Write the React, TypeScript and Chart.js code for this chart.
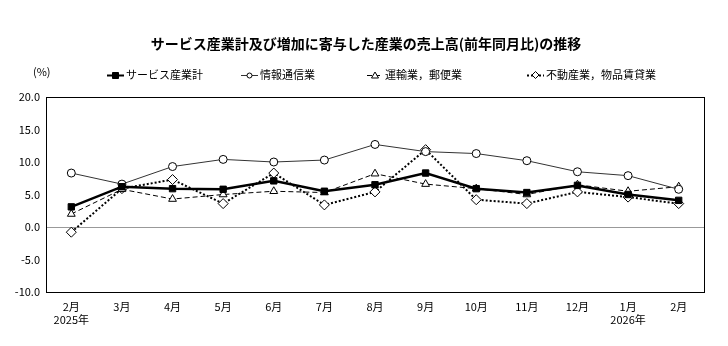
import React, { useEffect, useRef } from "react";
import { Chart, registerables } from "chart.js";

Chart.register(...registerables);

const categories: (string | string[])[] = [
  ["2月", "2025年"], "3月", "4月", "5月", "6月", "7月", "8月", "9月", "10月", "11月", "12月", ["1月", "2026年"], "2月",
];
const serviceTotal = [3.1, 6.2, 5.9, 5.8, 7.1, 5.5, 6.5, 8.3, 5.9, 5.3, 6.4, 5.0, 4.1];
const infoComm = [8.3, 6.6, 9.3, 10.4, 10.0, 10.3, 12.7, 11.6, 11.3, 10.2, 8.5, 7.9, 5.8];
const transport = [2.0, 5.8, 4.3, 5.0, 5.5, 5.3, 8.2, 6.6, 5.9, 5.0, 6.5, 5.5, 6.2];
const realEstate = [-0.8, 5.9, 7.3, 3.6, 8.3, 3.4, 5.4, 11.9, 4.2, 3.6, 5.4, 4.6, 3.6];
const seriesNames = ["サービス産業計", "情報通信業", "運輸業，郵便業", "不動産業，物品賃貸業"];
const titleText = "サービス産業計及び増加に寄与した産業の売上高(前年同月比)の推移";
const FONT = "'Noto Sans CJK JP', 'Noto Sans', sans-serif";

const legendX = [107, 241, 367, 527];

const overlayPlugin = {
  id: "overlay",
  afterDraw(chart: any) {
    const ctx = chart.ctx;
    const a = chart.chartArea;
    ctx.save();
    ctx.strokeStyle = "#000";
    ctx.lineWidth = 1;
    ctx.setLineDash([]);
    ctx.strokeRect(Math.round(a.left) + 0.5, Math.round(a.top) + 0.5, Math.round(a.right - a.left), Math.round(a.bottom - a.top));
    ctx.fillStyle = "#000";
    ctx.font = `bold 14px ${FONT}`;
    ctx.textAlign = "center";
    ctx.textBaseline = "middle";
    ctx.fillText(titleText, 366, 44);
    ctx.font = `11px ${FONT}`;
    ctx.textAlign = "left";
    ctx.fillText("(%)", 33, 72);
    chart.data.datasets.forEach((ds: any, i: number) => {
      const x0 = legendX[i];
      const y = 75;
      const len = i === 2 ? 16 : 17;
      ctx.save();
      ctx.strokeStyle = ds.borderColor;
      ctx.lineWidth = Math.min(ds.borderWidth, 2);
      ctx.setLineDash(ds.borderDash || []);
      ctx.beginPath();
      ctx.moveTo(x0, y + 0.5);
      ctx.lineTo(x0 + len, y + 0.5);
      ctx.stroke();
      ctx.setLineDash([]);
      ctx.lineWidth = 1;
      const cx = x0 + len / 2;
      const r = 3;
      ctx.fillStyle = ds.pointBackgroundColor;
      ctx.strokeStyle = ds.pointBorderColor;
      ctx.beginPath();
      if (ds.pointStyle === "rect") {
        ctx.rect(cx - r, y - r + 0.5, r * 2, r * 2);
      } else if (ds.pointStyle === "circle") {
        ctx.arc(cx, y + 0.5, 2.5, 0, Math.PI * 2);
      } else if (ds.pointStyle === "triangle") {
        ctx.moveTo(cx, y - 3);
        ctx.lineTo(cx + 3.5, y + 3);
        ctx.lineTo(cx - 3.5, y + 3);
        ctx.closePath();
      } else {
        ctx.moveTo(cx, y - 3.5);
        ctx.lineTo(cx + 3.5, y);
        ctx.lineTo(cx, y + 3.5);
        ctx.lineTo(cx - 3.5, y);
        ctx.closePath();
      }
      ctx.fill();
      ctx.stroke();
      ctx.restore();
      ctx.fillStyle = "#000";
      ctx.font = `11px ${FONT}`;
      ctx.textAlign = "left";
      ctx.textBaseline = "middle";
      ctx.fillText(seriesNames[i], x0 + len + 2, y);
    });
    ctx.restore();
  },
};

export default function App() {
  const ref = useRef<HTMLCanvasElement>(null);
  useEffect(() => {
    document.body.style.margin = "0";
    const chart = new Chart(ref.current!, {
      type: "line",
      data: {
        labels: categories,
        datasets: [
          {
            label: seriesNames[0],
            data: serviceTotal,
            borderColor: "#000",
            borderWidth: 2.5,
            pointStyle: "rect",
            pointRadius: 4.5,
            pointBackgroundColor: "#000",
            pointBorderColor: "#000",
            pointBorderWidth: 1,
            tension: 0,
          },
          {
            label: seriesNames[1],
            data: infoComm,
            borderColor: "#333",
            borderWidth: 1,
            pointStyle: "circle",
            pointRadius: 4,
            pointBackgroundColor: "#fff",
            pointBorderColor: "#000",
            pointBorderWidth: 1,
            tension: 0,
          },
          {
            label: seriesNames[2],
            data: transport,
            borderColor: "#000",
            borderWidth: 1,
            borderDash: [5, 3],
            pointStyle: "triangle",
            pointRadius: 4.5,
            pointBackgroundColor: "#fff",
            pointBorderColor: "#000",
            pointBorderWidth: 1,
            tension: 0,
          },
          {
            label: seriesNames[3],
            data: realEstate,
            borderColor: "#000",
            borderWidth: 2,
            borderDash: [2, 2],
            pointStyle: "rectRot",
            pointRadius: 5,
            pointBackgroundColor: "#fff",
            pointBorderColor: "#000",
            pointBorderWidth: 1,
            tension: 0,
          },
        ],
      },
      options: {
        animation: false,
        responsive: false,
        maintainAspectRatio: false,
        layout: { padding: { left: 0, top: 97, right: 24, bottom: 0 } },
        plugins: { legend: { display: false }, title: { display: false }, tooltip: { enabled: false } },
        scales: {
          x: {
            offset: true,
            grid: { display: false, drawTicks: false, offset: true },
            border: { display: false },
            ticks: {
              font: { family: FONT, size: 11 },
              color: "#000",
              padding: 8,
              maxRotation: 0,
              autoSkip: false,
            },
            afterFit: (s: any) => {
              s.height = 54;
            },
          },
          y: {
            min: -10,
            max: 20,
            grid: {
              drawTicks: false,
              color: (c: any) => (c.tick && c.tick.value === 0 ? "#999" : "rgba(0,0,0,0)"),
              lineWidth: 1,
            },
            border: { display: false },
            ticks: {
              stepSize: 5,
              font: { family: FONT, size: 11 },
              color: "#000",
              padding: 6,
              callback: (v: any) => Number(v).toFixed(1),
            },
            afterFit: (s: any) => {
              s.width = 46;
            },
          },
        },
      },
      plugins: [overlayPlugin],
    });
    return () => chart.destroy();
  }, []);
  return (
    <div style={{ position: "absolute", left: 0, top: 0, width: 728, height: 346, background: "#fff" }}>
      <canvas ref={ref} width={728} height={346} style={{ width: 728, height: 346 }} />
    </div>
  );
}
